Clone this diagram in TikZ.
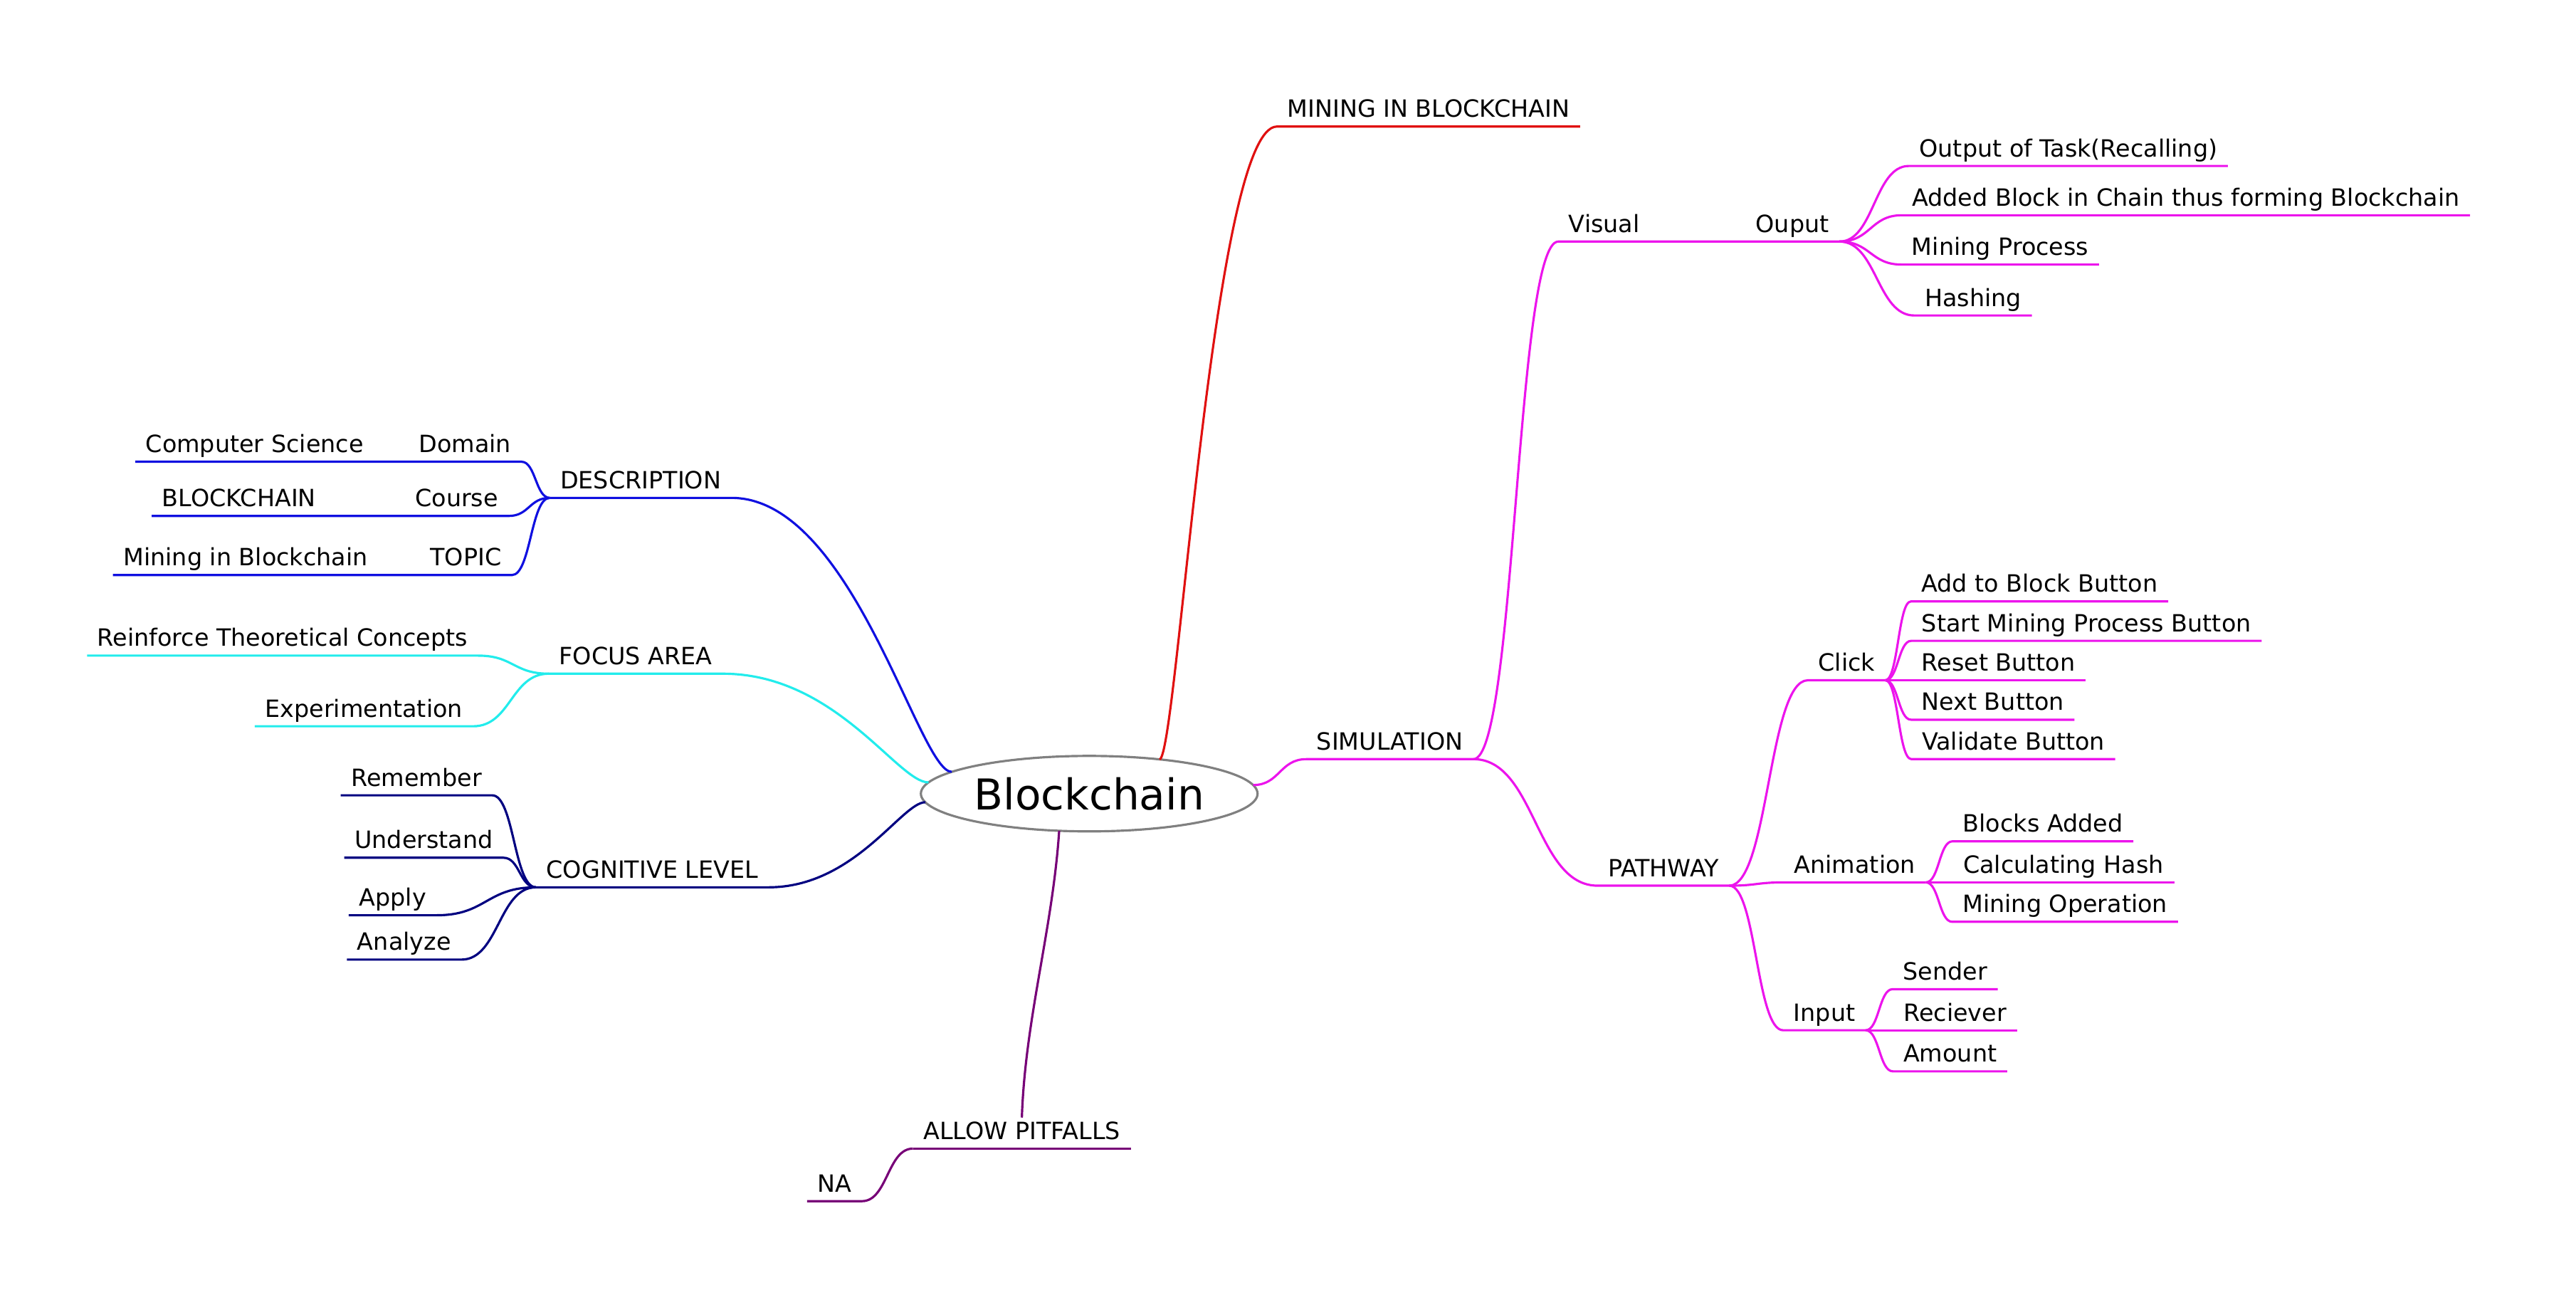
\documentclass[tikz,border=0pt]{standalone}
\usepackage{fontspec}
\setmainfont{DejaVu Sans}
\usetikzlibrary{shapes.geometric,calc}
\definecolor{minered}{RGB}{224,16,16}
\definecolor{simmag}{RGB}{236,20,236}
\definecolor{descblue}{RGB}{16,16,224}
\definecolor{focuscyan}{RGB}{34,236,236}
\definecolor{cognavy}{RGB}{0,0,128}
\definecolor{pitpurple}{RGB}{119,0,119}
\definecolor{rootgray}{RGB}{128,128,128}
\begin{document}
\begin{tikzpicture}[x=0.2308mm,y=-0.2308mm,
  leaf/.style={anchor=south,inner xsep=1.4mm,inner ysep=1pt,text height=0.75em,text depth=0.25em,font=\fontsize{9.5}{11}\selectfont},
  bough/.style={to path={let \p1=(\tikztostart), \p2=(\tikztotarget) in .. controls ({(\x1+\x2)/2},\y1) and ({(\x1+\x2)/2},\y2) .. (\tikztotarget)}},
  trunk/.style={to path={let \p1=(\tikztostart), \p2=(\tikztotarget) in .. controls ({0.85*\x1+0.15*\x2},\y1) and ({0.55*\x1+0.45*\x2},\y2) .. (\tikztotarget)}},
  mineline/.style={minered,line width=0.9pt},
  simline/.style={simmag,line width=0.9pt},
  descline/.style={descblue,line width=0.9pt},
  focusline/.style={focuscyan,line width=0.9pt},
  cogline/.style={cognavy,line width=0.9pt},
  pitline/.style={pitpurple,line width=0.9pt}]
\useasboundingbox (0,0) rectangle (1568,788);

\node[draw=rootgray,line width=0.9pt,ellipse,minimum width=4.73cm,minimum height=1.06cm,inner sep=0pt,outer sep=0pt,font=\fontsize{17}{20}\selectfont] (root) at (663,483) {Blockchain};

\node[leaf] (desc) at (390,303) {DESCRIPTION};
\node[leaf] (dom) at (283,281) {Domain};
\node[leaf] (cs) at (155,281) {Computer Science};
\node[leaf] (course) at (278,314) {Course};
\node[leaf] (bc) at (145.5,314) {BLOCKCHAIN};
\node[leaf] (topic) at (283.5,350) {TOPIC};
\node[leaf] (mib) at (149.5,350) {Mining in Blockchain};

\node[leaf] (focus) at (387,410) {FOCUS AREA};
\node[leaf] (rtc) at (172,399) {Reinforce Theoretical Concepts};
\node[leaf] (exp) at (221.5,442) {Experimentation};

\node[leaf] (cog) at (397,540) {COGNITIVE LEVEL};
\node[leaf] (rem) at (253.5,484) {Remember};
\node[leaf] (und) at (258,522) {Understand};
\node[leaf] (app) at (239,557) {Apply};
\node[leaf] (ana) at (246,584) {Analyze};

\node[leaf] (allow) at (622,699) {ALLOW PITFALLS};
\node[leaf] (na) at (508,731) {NA};

\node[leaf] (mining) at (869.5,77) {MINING IN BLOCKCHAIN};

\node[leaf] (sim) at (846,462) {SIMULATION};
\node[leaf] (vis) at (976.5,147) {Visual};
\node[leaf] (ouput) at (1091,147) {Ouput};
\node[leaf] (o1) at (1259,101) {Output of Task(Recalling)};
\node[leaf] (o2) at (1330.5,131) {Added Block in Chain thus forming Blockchain};
\node[leaf] (o3) at (1217.5,161) {Mining Process};
\node[leaf] (o4) at (1201,192) {Hashing};

\node[leaf] (pathway) at (1012.5,539) {PATHWAY};
\node[leaf] (click) at (1124,414) {Click};
\node[leaf] (c1) at (1241.5,366) {Add to Block Button};
\node[leaf] (c2) at (1270,390) {Start Mining Process Button};
\node[leaf] (c3) at (1216.5,414) {Reset Button};
\node[leaf] (c4) at (1213,438) {Next Button};
\node[leaf] (c5) at (1225.5,462) {Validate Button};
\node[leaf] (anim) at (1129,537) {Animation};
\node[leaf] (a1) at (1243.5,512) {Blocks Added};
\node[leaf] (a2) at (1256,537) {Calculating Hash};
\node[leaf] (a3) at (1257,561) {Mining Operation};
\node[leaf] (inp) at (1110.5,627) {Input};
\node[leaf] (i1) at (1184,602) {Sender};
\node[leaf] (i2) at (1190,627) {Reciever};
\node[leaf] (i3) at (1187,652) {Amount};

\draw[descline,trunk] (root.171) to (desc.south east) -- (desc.south west);
\draw[descline,bough] (desc.south west) to (dom.south east) -- (dom.south west) -- (cs.south east) -- (cs.south west);
\draw[descline,bough] (desc.south west) to (course.south east) -- (course.south west) -- (bc.south east) -- (bc.south west);
\draw[descline,bough] (desc.south west) to (topic.south east) -- (topic.south west) -- (mib.south east) -- (mib.south west);

\draw[focusline,trunk] (root.176) to (focus.south east) -- (focus.south west);
\draw[focusline,bough] (focus.south west) to (rtc.south east) -- (rtc.south west);
\draw[focusline,bough] (focus.south west) to (exp.south east) -- (exp.south west);

\draw[cogline,trunk] (root.183) to (cog.south east) -- (cog.south west);
\draw[cogline,bough] (cog.south west) to (rem.south east) -- (rem.south west);
\draw[cogline,bough] (cog.south west) to (und.south east) -- (und.south west);
\draw[cogline,bough] (cog.south west) to (app.south east) -- (app.south west);
\draw[cogline,bough] (cog.south west) to (ana.south east) -- (ana.south west);

\draw[pitline] (root.231) .. controls +(-4,60) and +(2,-60) .. (allow.north);
\draw[pitline] (allow.south west) -- (allow.south east);
\draw[pitline,bough] (allow.south west) to (na.south east) -- (na.south west);

\draw[mineline,trunk] (root.26) to (mining.south west) -- (mining.south east);

\draw[simline,bough] (root.3) to (sim.south west) -- (sim.south east);
\draw[simline,bough] (sim.south east) to (vis.south west) -- (vis.south east) -- (ouput.south west) -- (ouput.south east);
\draw[simline,bough] (ouput.south east) to (o1.south west) -- (o1.south east);
\draw[simline,bough] (ouput.south east) to (o2.south west) -- (o2.south east);
\draw[simline,bough] (ouput.south east) to (o3.south west) -- (o3.south east);
\draw[simline,bough] (ouput.south east) to (o4.south west) -- (o4.south east);

\draw[simline,bough] (sim.south east) to (pathway.south west) -- (pathway.south east);
\draw[simline,bough] (pathway.south east) to (click.south west) -- (click.south east);
\draw[simline,bough] (click.south east) to (c1.south west) -- (c1.south east);
\draw[simline,bough] (click.south east) to (c2.south west) -- (c2.south east);
\draw[simline,bough] (click.south east) to (c3.south west) -- (c3.south east);
\draw[simline,bough] (click.south east) to (c4.south west) -- (c4.south east);
\draw[simline,bough] (click.south east) to (c5.south west) -- (c5.south east);
\draw[simline,bough] (pathway.south east) to (anim.south west) -- (anim.south east);
\draw[simline,bough] (anim.south east) to (a1.south west) -- (a1.south east);
\draw[simline,bough] (anim.south east) to (a2.south west) -- (a2.south east);
\draw[simline,bough] (anim.south east) to (a3.south west) -- (a3.south east);
\draw[simline,bough] (pathway.south east) to (inp.south west) -- (inp.south east);
\draw[simline,bough] (inp.south east) to (i1.south west) -- (i1.south east);
\draw[simline,bough] (inp.south east) to (i2.south west) -- (i2.south east);
\draw[simline,bough] (inp.south east) to (i3.south west) -- (i3.south east);

\end{tikzpicture}
\end{document}
